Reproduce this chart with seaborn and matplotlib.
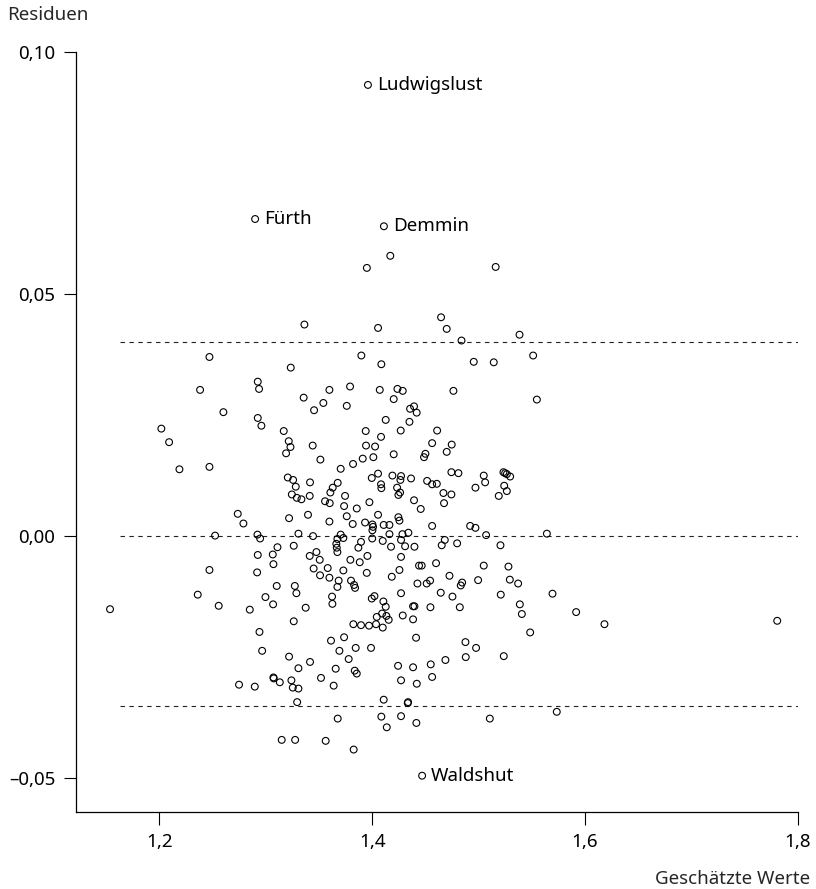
import matplotlib
matplotlib.use("Agg")
import matplotlib.pyplot as plt
import seaborn as sns
import pandas as pd
from matplotlib.ticker import FuncFormatter, FixedLocator

# ---- data: estimated values (x = Geschätzte Werte, y = Residuen) ----
est = [
    1.2471, 1.3235, 1.2383, 1.2925, 1.2937, 1.2602, 1.2925, 1.2959, 1.2019, 1.2092,
    1.3169, 1.3216, 1.3232, 1.3191,
    1.3363, 1.4055, 1.4647, 1.4700, 1.3898, 1.4086, 1.3356, 1.3598, 1.3541, 1.3454,
    1.3792, 1.3761, 1.4071, 1.4237, 1.4287, 1.4202, 1.4356, 1.4393, 1.4418, 1.4127,
    1.4350, 1.4763, 1.3939, 1.4083, 1.4268, 1.4610, 1.3942, 1.4027, 1.3441, 1.4563,
    1.4747,
    1.4839, 1.5384, 1.4954, 1.5142, 1.5512, 1.5547,
    1.2189, 1.2471, 1.3207, 1.3257, 1.3282, 1.3245, 1.3292, 1.2737, 1.2790, 1.3219,
    1.2524, 1.2922, 1.2947, 1.3307, 1.3110, 1.3263, 1.2925, 1.3066, 1.3072, 1.2471,
    1.2919, 1.3103, 1.3273, 1.3288, 1.2361, 1.2997, 1.3069, 1.2558, 1.2850, 1.3263,
    1.3513, 1.3820, 1.3911, 1.4011, 1.4202, 1.4487, 1.4500, 1.4700, 1.3704, 1.4055,
    1.3996, 1.4190, 1.4271, 1.4265, 1.4365, 1.4744, 1.3416, 1.3676, 1.3629, 1.3607,
    1.4083, 1.4086, 1.4234, 1.4262, 1.4246, 1.4516, 1.4563, 1.4607, 1.4669, 1.4744,
    1.3413, 1.3335, 1.3745, 1.3557, 1.3601, 1.3736, 1.3974, 1.3855, 1.4393, 1.4675,
    1.4456, 1.3397, 1.3761, 1.4055, 1.4246, 1.4256, 1.3598, 1.3817, 1.3933, 1.4002,
    1.4008, 1.4002, 1.4108, 1.4162, 1.4563, 1.3444, 1.3704, 1.3673, 1.3729, 1.3663,
    1.3895, 1.3870, 1.4000, 1.4099, 1.4162, 1.4284, 1.4340, 1.4271, 1.4309, 1.4397,
    1.4177, 1.4682, 1.4653, 1.3667, 1.3673, 1.3476, 1.3413, 1.3507, 1.3795, 1.3955,
    1.3883, 1.4271, 1.4440, 1.4465, 1.4600, 1.3450, 1.3582, 1.3729, 1.3510, 1.3598,
    1.3949, 1.4256, 1.4184, 1.4726, 1.3685, 1.3673, 1.3801, 1.3830, 1.3839, 1.4425,
    1.4512, 1.4544, 1.4271, 1.4644, 1.4754, 1.3623, 1.3626, 1.4021, 1.3996, 1.4105,
    1.4127, 1.4384, 1.4397, 1.4547, 1.3375, 1.4093, 1.4133, 1.4155, 1.4043, 1.4287,
    1.4384,
    1.4810, 1.5048, 1.5061, 1.4970, 1.5233, 1.5249, 1.5265, 1.5296, 1.5240, 1.5265,
    1.5189, 1.4920, 1.4970, 1.5070, 1.5641, 1.4798, 1.5205, 1.5048, 1.5280, 1.4995,
    1.5293, 1.5371, 1.4845, 1.4832, 1.5208, 1.5694, 1.4823, 1.5387, 1.5406, 1.5916,
    1.6182,
    1.2941, 1.2966, 1.3219, 1.3307, 1.2749, 1.2897, 1.3072, 1.3075, 1.3132, 1.3241,
    1.3254, 1.3307, 1.3295, 1.3150, 1.3276,
    1.3823, 1.3895, 1.3970, 1.4036, 1.4099, 1.3613, 1.3736, 1.4412, 1.3692, 1.3845,
    1.3989, 1.3416, 1.3657, 1.3779, 1.3836, 1.3855, 1.3519, 1.3638, 1.4243, 1.4384,
    1.4550, 1.4688, 1.4271, 1.4419, 1.4563, 1.4108, 1.4334, 1.4337, 1.3676, 1.4086,
    1.4271, 1.4137, 1.4415, 1.3563, 1.3826,
    1.4876, 1.4976, 1.4879, 1.5236, 1.5484, 1.5734, 1.5105,
    1.7805, 1.1537, 1.3950, 1.4170, 1.5160,
]
res = [
    0.0370, 0.0348, 0.0302, 0.0319, 0.0304, 0.0256, 0.0244, 0.0228, 0.0222, 0.0194,
    0.0217, 0.0196, 0.0184, 0.0171,
    0.0437, 0.0430, 0.0452, 0.0428, 0.0373, 0.0355, 0.0286, 0.0302, 0.0275, 0.0260,
    0.0309, 0.0269, 0.0302, 0.0304, 0.0300, 0.0283, 0.0263, 0.0268, 0.0255, 0.0240,
    0.0236, 0.0300, 0.0217, 0.0205, 0.0218, 0.0218, 0.0187, 0.0185, 0.0187, 0.0192,
    0.0189,
    0.0404, 0.0416, 0.0360, 0.0359, 0.0373, 0.0282,
    0.0138, 0.0143, 0.0121, 0.0116, 0.0102, 0.0086, 0.0079, 0.0046, 0.0026, 0.0037,
    0.0001, 0.0003, -0.0005, 0.0005, -0.0023, -0.0020, -0.0039, -0.0038, -0.0058, -0.0070,
    -0.0075, -0.0103, -0.0103, -0.0118, -0.0121, -0.0126, -0.0141, -0.0144, -0.0152, -0.0176,
    0.0158, 0.0149, 0.0160, 0.0163, 0.0169, 0.0163, 0.0170, 0.0174, 0.0139, 0.0129,
    0.0120, 0.0125, 0.0124, 0.0116, 0.0119, 0.0132, 0.0111, 0.0110, 0.0100, 0.0090,
    0.0107, 0.0099, 0.0100, 0.0090, 0.0085, 0.0114, 0.0107, 0.0108, 0.0089, 0.0086,
    0.0083, 0.0076, 0.0083, 0.0072, 0.0068, 0.0062, 0.0070, 0.0057, 0.0074, 0.0068,
    0.0056, 0.0044, 0.0041, 0.0044, 0.0039, 0.0032, 0.0030, 0.0025, 0.0028, 0.0024,
    0.0019, 0.0012, 0.0023, 0.0023, 0.0021, 0.0000, 0.0003, -0.0006, -0.0004, -0.0016,
    -0.0012, -0.0024, -0.0005, -0.0010, 0.0004, 0.0004, 0.0007, -0.0008, -0.0021, -0.0022,
    -0.0022, -0.0008, -0.0019, -0.0024, -0.0033, -0.0033, -0.0041, -0.0049, -0.0049, -0.0041,
    -0.0054, -0.0043, -0.0061, -0.0061, -0.0056, -0.0067, -0.0066, -0.0071, -0.0081, -0.0086,
    -0.0076, -0.0070, -0.0084, -0.0082, -0.0092, -0.0105, -0.0092, -0.0101, -0.0107, -0.0098,
    -0.0098, -0.0092, -0.0118, -0.0117, -0.0125, -0.0125, -0.0140, -0.0124, -0.0129, -0.0135,
    -0.0146, -0.0145, -0.0145, -0.0147, -0.0148, -0.0160, -0.0165, -0.0173, -0.0167, -0.0164,
    -0.0172,
    0.0130, 0.0125, 0.0111, 0.0100, 0.0132, 0.0130, 0.0128, 0.0123, 0.0104, 0.0093,
    0.0083, 0.0021, 0.0017, 0.0002, 0.0005, -0.0015, -0.0019, -0.0061, -0.0063, -0.0091,
    -0.0090, -0.0098, -0.0096, -0.0102, -0.0121, -0.0119, -0.0147, -0.0141, -0.0161, -0.0157,
    -0.0182,
    -0.0198, -0.0237, -0.0249, -0.0273, -0.0307, -0.0311, -0.0292, -0.0294, -0.0302, -0.0298,
    -0.0313, -0.0315, -0.0343, -0.0421, -0.0421,
    -0.0182, -0.0184, -0.0185, -0.0182, -0.0189, -0.0216, -0.0209, -0.0210, -0.0237, -0.0231,
    -0.0231, -0.0260, -0.0274, -0.0254, -0.0278, -0.0284, -0.0293, -0.0309, -0.0268, -0.0271,
    -0.0265, -0.0256, -0.0298, -0.0305, -0.0291, -0.0338, -0.0345, -0.0343, -0.0377, -0.0373,
    -0.0372, -0.0395, -0.0386, -0.0423, -0.0441,
    -0.0219, -0.0231, -0.0250, -0.0248, -0.0199, -0.0363, -0.0377,
    -0.0175, -0.0151, 0.0554, 0.0579, 0.0556,
]

# labelled outliers
lab_names = ["Ludwigslust", "Fürth", "Demmin", "Waldshut"]
lab_est = [1.3960, 1.2900, 1.4110, 1.4469]
lab_res = [0.0932, 0.0655, 0.0640, -0.0495]

# reference lines (residual levels) and ticks
ref_levels = [0.04, 0.0, -0.035]
xticks = [1.2, 1.4, 1.6, 1.8]
yticks = [-0.05, 0.0, 0.05, 0.10]

df = pd.DataFrame({"Geschätzte Werte": est + lab_est,
                   "Residuen": res + lab_res})

sns.set_theme(style="ticks")
plt.rcParams["font.family"] = ["Noto Sans", "DejaVu Sans"]
plt.rcParams["font.weight"] = 500

fig = plt.figure(figsize=(8.16, 8.89), dpi=100)
ax = fig.add_axes([0.0931, 0.0866, 0.8848, 0.8549])

for lv in ref_levels:
    ax.hlines(lv, 1.163, 1.8, colors="#222222", linewidth=0.8,
              linestyles=(0, (4, 4)), zorder=1)

sns.scatterplot(data=df, x="Geschätzte Werte", y="Residuen", ax=ax,
                marker="o", s=24, linewidth=0.8, zorder=3, legend=False)
for coll in ax.collections:
    if coll.get_offsets().shape[0] > 10:
        coll.set_facecolor("none")
        coll.set_edgecolor("black")
        coll.set_linewidth(0.8)

for n, xv, yv in zip(lab_names, lab_est, lab_res):
    ax.annotate(n, (xv, yv), xytext=(6.5, 0), textcoords="offset points",
                ha="left", va="center", fontsize=13.5, color="black")

ax.set_xlim(1.1217, 1.8)
ax.set_ylim(-0.0570, 0.10)
ax.xaxis.set_major_locator(FixedLocator(xticks))
ax.yaxis.set_major_locator(FixedLocator(yticks))
ax.xaxis.set_major_formatter(FuncFormatter(lambda v, p: f"{v:.1f}".replace(".", ",")))
ax.yaxis.set_major_formatter(FuncFormatter(
    lambda v, p: f"{v:.2f}".replace(".", ",").replace("-", "\u2013")))
ax.tick_params(axis="both", direction="out", length=9, width=0.8,
               labelsize=13.5, colors="black", pad=6)
ax.set_xlabel("")
ax.set_ylabel("")
for side in ["top", "right"]:
    ax.spines[side].set_visible(False)
for side in ["left", "bottom"]:
    ax.spines[side].set_linewidth(0.9)
    ax.spines[side].set_color("black")

fig.text(7 / 816, 1 - 15 / 889, "Residuen", ha="left", va="center", fontsize=13.5)
fig.text(810 / 816, 1 - 879 / 889, "Geschätzte Werte", ha="right", va="center",
         fontsize=13.5)

fig.savefig("out.png", dpi=100, facecolor="white")
